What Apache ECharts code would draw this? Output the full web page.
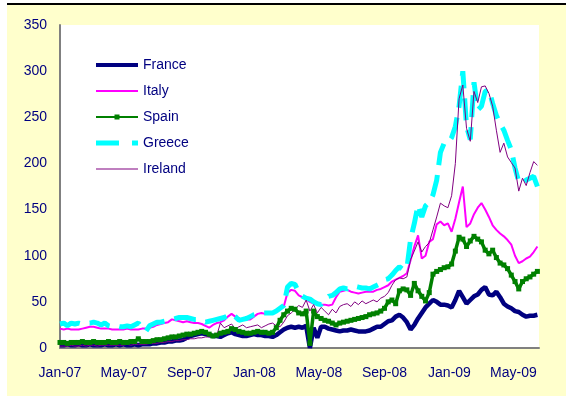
<!DOCTYPE html>
<html>
<head>
<meta charset="utf-8">
<script src="https://cdn.jsdelivr.net/npm/echarts@6.0.0/dist/echarts.min.js"></script>
<style>
  html, body { margin: 0; padding: 0; background: #fff; }
  #panel { position: absolute; left: 7px; top: 5px; width: 559px; height: 391px; background: #FFFFCC; }
  #rule { position: absolute; left: 7px; top: 3px; width: 559px; height: 2px; background: #000; }
  #container { position: absolute; left: 0; top: 0; width: 566px; height: 401px; }
</style>
</head>
<body>
<div id="panel"></div>
<div id="rule"></div>
<div id="container"></div>
<script>
/* weekly observations, starting Monday 1 Jan 2007; x is counted in days from that date */
var DAY = 86400000;
var startDay = Date.UTC(2007, 0, 1);
var lastDay = (Date.UTC(2009, 5, 18) - startDay) / DAY;

var names = ['France', 'Italy', 'Spain', 'Greece', 'Ireland'];

var france = [3,3,4,3,3,4,3,3,4,3,3,3,4,3,3,4,3,4,3,3,4,3,4,4,4,
  5,5,6,6,7,7,8,8, 9,11,13,14,15,16,15,14, 13,13,12,14,16,17,15,14,
  13,13,14,15,14,14,13,13, 12,14,17,20,22,23,22,23, 22,24,0,22,11,23,23,21,
  20,19,18,19,19,20,19,18, 18,18,19,21,23,23,26,29, 30,34,36,33,28,20,25,32,
  38,44,48,52,50,47,47,46, 44,52,62,55,48,52,56,58, 63,66,58,57,61,55,48,45,
  43,40,39,36,34,35,35,36];

var italy = [21,20,21,20,20,20,21,22,23,23,22,21,21,21,20,20,20,20,21,20,20,20,21,21,22,
  23,25,26,27,28,31,30,29, 28,29,28,27,27,26,24,22, 25,27,28,30,34,37,34,31,
  31,31,31,34,37,38,37,37, 37,40,42,45,60,63,62,57, 55,53,50,48,49,47,47,46,
  47,55,61,62,63,61,60,59, 60,61,61,61,63,64,66,68, 72,74,76,78,81,95,110,122,
  97,100,115,118,134,137,133,135, 126,140,158,175,131,135,145,152, 157,150,142,133,128,124,121,117,
  112,100,92,94,97,99,104,110];

var spain = [6,6,5,6,6,6,7,6,6,7,6,6,6,7,6,6,7,6,6,7,7,10,7,7,7,
  8,9,9,10,11,12,12,13, 14,15,15,16,17,18,17,15, 13,14,16,17,18,21,20,18,
  17,16,16,17,18,17,17,16, 17,22,30,36,40,43,42,38, 37,40,5,40,34,32,30,29,
  27,25,27,28,29,30,31,32, 33,34,36,37,38,40,43,50, 52,48,62,64,63,57,70,62,
  56,51,60,80,83,85,87,88, 91,105,120,118,110,116,121,118, 115,106,102,106,98,92,90,86,
  79,72,64,72,75,77,80,83];

var greece = [26,27,24,27,26,27,26,27,27,28,27,25,27,24,23,24,23,23,24,23,25,27,22,18,24,
  26,28,28,29,30,31,32,33, 33,33,32,31,31,30,28,29, 30,31,32,33,35,37,34,30,
  31,32,34,36,37,38,38,38, 38,40,43,46,66,70,69,60, 56,54,53,50,48,47,52,56,
  57,60,64,65,64,66,67,66, 65,65,64,66,68,70,74,75, 79,84,88,85,86,118,135,155,
  142,154,158,166,182,212,222,222, 228,240,262,300,240,226,288,258, 262,278,280,265,252,243,236,225,
  215,195,180,178,182,184,186,175];

var ireland = [2,2,2,3,2,2,3,2,3,3,2,3,3,3,3,3,3,3,4,3,4,4,4,4,5,
  5,5,6,6,7,7,8,8, 9,9,10,10,11,11,12,12, 13,13,27,22,24,26,21,23,
  25,22,23,24,25,22,24,26, 27,24,23,28,35,38,42,46, 44,52,40,47,38,44,40,36,
  42,38,45,47,48,45,50,47, 51,48,50,52,50,54,56,60, 68,74,76,75,77,96,105,115,
  104,110,114,128,142,157,154,152, 165,200,270,285,238,224,278,266, 283,284,276,262,236,212,222,207,
  201,195,170,184,176,190,202,198];

var tickLabels = ['Jan-07', 'May-07', 'Sep-07', 'Jan-08', 'May-08', 'Sep-08', 'Jan-09', 'May-09'];
var tickDates = [[2007, 0], [2007, 4], [2007, 8], [2008, 0], [2008, 4], [2008, 8], [2009, 0], [2009, 4]];
var tickValues = tickDates.map(function (d) { return (Date.UTC(d[0], d[1], 1) - startDay) / DAY; });

var navy = '#000080';
var font = '"Liberation Sans", Arial, sans-serif';

// legend keys drawn as small paths (42 x 5 box) so they look like the line styles
var legendIcons = {
    France: 'path://M0,0.5H42V4.5H0Z',
    Italy: 'path://M0,1.5H42V3.5H0Z',
    Spain: 'path://M0,1.5H42V3.5H0Z M18.5,0H23.5V5H18.5Z',
    Greece: 'path://M0,0H23V5H0Z M36,0H42V5H36Z',
    Ireland: 'path://M0,2H42V3H0Z'
};

function withDays(values) {
    return values.map(function (v, i) {
        return [i * 7, v];
    });
}

var dom = document.getElementById('container');
var myChart = echarts.init(dom, null, {renderer: 'canvas'});

var option = {
    animation: false,
    backgroundColor: 'transparent',
    title: {
        text: '(spread over German Bund, in basis points, daily yield data)',
        left: 'center',
        top: -21,
        textStyle: {color: navy, fontSize: 14, fontWeight: 'normal', fontFamily: font}
    },
    grid: {
        left: 60, right: 27, top: 25, bottom: 53,
        show: true, backgroundColor: '#fff', borderWidth: 0
    },
    legend: {
        orient: 'vertical',
        left: 91,
        top: 53,
        itemWidth: 42,
        itemHeight: 14,
        itemGap: 12,
        textStyle: {color: navy, fontSize: 14, fontFamily: font},
        data: names.map(function (n) { return {name: n, icon: legendIcons[n]}; })
    },
    xAxis: {
        type: 'value',
        min: 0,
        max: lastDay,
        axisLine: {lineStyle: {color: '#808080', width: 2}},
        axisTick: {show: false},
        splitLine: {show: false},
        axisLabel: {
            customValues: tickValues,
            color: navy,
            fontSize: 14,
            fontFamily: font,
            margin: 18,
            formatter: function (val) {
                var k = tickValues.indexOf(val);
                return k >= 0 ? tickLabels[k] : '';
            }
        }
    },
    yAxis: {
        type: 'value',
        min: 0,
        max: 350,
        interval: 50,
        axisLine: {show: true, lineStyle: {color: '#808080', width: 2}},
        axisTick: {show: false},
        splitLine: {show: false},
        axisLabel: {color: navy, fontSize: 14, fontFamily: font, margin: 13}
    },
    series: [
        {
            name: 'France', type: 'line', data: withDays(france),
            symbol: 'none', lineStyle: {color: '#000080', width: 4.5}, itemStyle: {color: '#000080'}
        },
        {
            name: 'Italy', type: 'line', data: withDays(italy),
            symbol: 'none', lineStyle: {color: '#FF00FF', width: 2}, itemStyle: {color: '#FF00FF'}
        },
        {
            name: 'Spain', type: 'line', data: withDays(spain),
            symbol: 'rect', symbolSize: 5, showSymbol: true,
            lineStyle: {color: '#008000', width: 3.5}, itemStyle: {color: '#008000'}
        },
        {
            name: 'Greece', type: 'line', data: withDays(greece),
            symbol: 'none', lineStyle: {color: '#00FFFF', width: 5, type: [22, 10]}, itemStyle: {color: '#00FFFF'}
        },
        {
            name: 'Ireland', type: 'line', data: withDays(ireland),
            symbol: 'none', lineStyle: {color: '#800080', width: 1}, itemStyle: {color: '#800080'}
        }
    ]
};

myChart.setOption(option);
</script>
</body>
</html>
